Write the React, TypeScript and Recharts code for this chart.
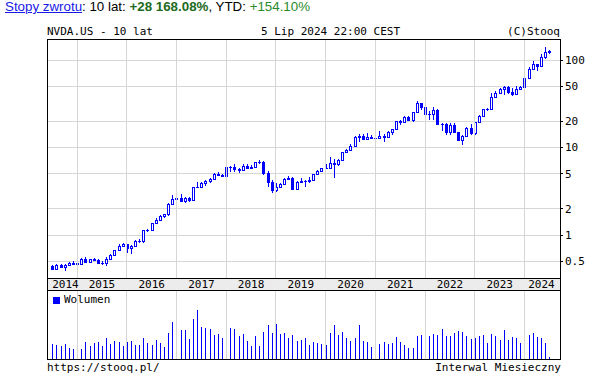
import { Bar, CartesianGrid, ComposedChart, Legend, ReferenceLine, XAxis, YAxis } from "recharts";

// NVDA.US monthly, Jul 2014 .. Jul 2024 (split/dividend adjusted)
const opens = [
  0.44, 0.411, 0.458, 0.434, 0.459, 0.481,
  0.478, 0.466, 0.537, 0.497, 0.527, 0.524, 0.478, 0.474, 0.534, 0.585, 0.674, 0.754,
  0.783, 0.707, 0.757, 0.859, 0.856, 1.127, 1.134, 1.378, 1.5, 1.653, 1.718, 2.26,
  2.574, 2.662, 2.474, 2.654, 2.542, 3.505, 3.525, 3.961, 4.124, 4.358, 5.041, 4.892,
  4.717, 6.022, 5.917, 5.674, 5.51, 6.189, 5.804, 6.0, 6.875, 6.885, 5.165, 4.003,
  3.271, 3.541, 3.805, 4.423, 4.457, 3.337, 4.043, 4.154, 4.127, 4.287, 4.95, 5.339,
  5.794, 5.851, 6.683, 6.524, 7.234, 8.786, 9.403, 10.509, 13.24, 13.395, 12.41, 13.268,
  12.924, 12.899, 13.619, 13.254, 14.905, 16.131, 19.862, 19.363, 22.228, 20.571, 25.388, 32.447,
  29.205, 24.388, 24.288, 27.177, 18.473, 18.597, 15.098, 18.09, 15.034, 12.09, 13.443, 16.855,
  14.556, 19.498, 23.17, 27.72, 27.69, 37.76, 42.22, 46.64, 49.26, 43.41, 40.7, 46.68,
  49.42, 61.53, 79.11, 90.36, 86.4, 109.63, 123.47,
];
const highs = [
  0.456, 0.465, 0.463, 0.463, 0.488, 0.499,
  0.486, 0.545, 0.555, 0.535, 0.55, 0.535, 0.5, 0.556, 0.6, 0.68, 0.79, 0.8,
  0.79, 0.76, 0.87, 0.89, 1.13, 1.17, 1.38, 1.56, 1.68, 1.76, 2.3, 2.84,
  2.9, 2.95, 2.7, 2.72, 3.58, 4.08, 4.07, 4.26, 4.44, 5.12, 5.3, 4.93,
  6.1, 6.12, 6.53, 5.84, 6.42, 6.55, 6.27, 6.9, 7.17, 7.03, 5.34, 4.21,
  3.96, 3.97, 4.52, 4.7, 4.61, 4.12, 4.5, 4.3, 4.55, 4.99, 5.5, 5.9,
  6.44, 7.87, 7.3, 7.45, 8.91, 9.64, 10.88, 13.44, 14.45, 14.21, 14.56, 13.74,
  14.4, 15.24, 14.25, 15.49, 16.3, 20.16, 20.8, 22.8, 22.9, 25.7, 34.4, 32.5,
  30.5, 26.4, 28.8, 27.2, 19.2, 19.0, 19.0, 19.2, 15.1, 13.8, 17.2, 18.7,
  19.8, 23.8, 27.9, 28.1, 41.9, 43.9, 48.0, 50.2, 49.8, 47.7, 50.5, 50.5,
  63.5, 82.4, 97.4, 90.4, 115.8, 140.76, 128.9,
];
const lows = [
  0.407, 0.409, 0.425, 0.386, 0.454, 0.464,
  0.444, 0.462, 0.485, 0.48, 0.505, 0.47, 0.455, 0.44, 0.52, 0.575, 0.66, 0.74,
  0.62, 0.6, 0.75, 0.82, 0.82, 1.07, 1.12, 1.37, 1.47, 1.58, 1.63, 2.2,
  2.45, 2.45, 2.33, 2.4, 2.48, 3.43, 3.46, 3.61, 3.97, 4.33, 4.8, 4.56,
  4.7, 5.28, 5.24, 5.16, 5.39, 5.76, 5.78, 5.98, 6.53, 4.81, 3.53, 3.06,
  3.12, 3.46, 3.74, 4.33, 3.27, 3.26, 4.0, 3.55, 3.96, 4.16, 4.9, 5.2,
  5.77, 5.75, 4.5, 6.14, 6.98, 8.6, 9.38, 10.46, 11.7, 12.34, 12.37, 12.75,
  12.7, 12.85, 11.44, 13.11, 13.79, 15.88, 18.07, 18.96, 20.47, 19.45, 25.3, 26.9,
  20.8, 20.8, 20.7, 18.4, 15.5, 13.9, 14.0, 14.9, 11.9, 10.8, 13.2, 14.0,
  14.0, 19.3, 22.2, 26.2, 27.3, 37.3, 40.9, 40.3, 40.9, 39.2, 40.6, 45.4,
  47.3, 60.5, 79.0, 75.6, 86.0, 101.4, 118.0,
];
const closes = [
  0.411, 0.459, 0.434, 0.459, 0.481, 0.471,
  0.466, 0.537, 0.497, 0.527, 0.524, 0.478, 0.474, 0.534, 0.585, 0.674, 0.754, 0.783,
  0.707, 0.757, 0.859, 0.856, 1.127, 1.134, 1.378, 1.5, 1.653, 1.718, 2.26, 2.574,
  2.662, 2.474, 2.654, 2.542, 3.505, 3.525, 3.961, 4.124, 4.358, 5.041, 4.892, 4.717,
  6.022, 5.917, 5.674, 5.51, 6.189, 5.804, 6.0, 6.875, 6.885, 5.165, 4.003, 3.271,
  3.541, 3.805, 4.423, 4.457, 3.337, 4.043, 4.154, 4.127, 4.287, 4.95, 5.339, 5.794,
  5.851, 6.683, 6.524, 7.234, 8.786, 9.403, 10.509, 13.24, 13.395, 12.41, 13.268, 12.924,
  12.899, 13.619, 13.254, 14.905, 16.131, 19.862, 19.363, 22.228, 20.571, 25.388, 32.447, 29.205,
  24.388, 24.288, 27.177, 18.473, 18.597, 15.098, 18.09, 15.034, 12.09, 13.443, 16.855, 14.556,
  19.498, 23.17, 27.72, 27.69, 37.76, 42.22, 46.64, 49.26, 43.41, 40.7, 46.68, 49.42,
  61.53, 79.11, 90.36, 86.4, 109.63, 123.54, 125.83,
];
// monthly volume, millions of shares (adjusted)
const volumes = [
  450, 420, 390, 450, 330, 300,
  300, 300, 510, 390, 480, 510, 390, 630, 450, 540, 510, 390,
  510, 540, 420, 420, 630, 480, 420, 570, 490, 370, 790, 1120,
  820, 880, 880, 610, 1210, 1480, 970, 940, 910, 730, 760, 640,
  730, 940, 910, 700, 760, 550, 400, 700, 400, 820, 1030, 790,
  1060, 750, 780, 630, 720, 540, 570, 630, 420, 510, 480, 450,
  420, 780, 1020, 720, 810, 630, 540, 630, 1020, 540, 510, 360,
  420, 450, 510, 450, 480, 660, 510, 420, 330, 330, 690, 720,
  690, 690, 750, 720, 900, 690, 690, 780, 840, 810, 690, 600,
  630, 690, 720, 480, 750, 690, 570, 870, 570, 660, 630, 480,
  630, 720, 780, 660, 630, 480, 60,
];
const years = [2014, 2015, 2016, 2017, 2018, 2019, 2020, 2021, 2022, 2023, 2024];
const priceTicks = [0.5, 1, 2, 5, 10, 20, 50, 100];

const START_MONTH = 6; // July 2014 = index 0
const data = closes.map((close, i) => ({
  i,
  open: opens[i],
  high: highs[i],
  low: lows[i],
  close,
  vol: volumes[i],
}));
const janTicks = years.slice(1).map((y) => (y - 2014) * 12 - START_MONTH);
const midTicks = years.map((y) => (y - 2014) * 12);

const BLUE = "#0000ff";
const MONO = "'DejaVu Sans Mono', monospace";
const GRID = "#d6d6d6";
const X_DOMAIN: [number, number] = [-1.28, 122.57];

function Candle(props: any) {
  const { x, y, width, height } = props;
  const p = props.payload ?? props;
  const lh = Math.log(p.high);
  const ll = Math.log(p.low);
  const py = (v: number) =>
    Math.round(y + (height * (lh - Math.log(v))) / (lh - ll || 1));
  const c = Math.floor(x + width / 2);
  const top = py(Math.max(p.open, p.close));
  const bot = py(Math.min(p.open, p.close));
  const up = p.close > p.open;
  return (
    <g>
      <line x1={c + 0.5} x2={c + 0.5} y1={Math.round(y)} y2={Math.round(y + height)} stroke={BLUE} />
      {up && bot - top >= 2 ? (
        <rect x={c - 0.5} y={top + 0.5} width={2} height={bot - top} fill="#fff" stroke={BLUE} />
      ) : (
        <rect x={c - 1} y={top} width={3} height={bot - top + 1} fill={BLUE} />
      )}
    </g>
  );
}

function YearTick(props: any) {
  const { x, payload } = props;
  const half = 13.5;
  const cx = Math.min(Math.max(x, 47 + 5 + half), 560 - 5 - half);
  return (
    <text x={cx} y={9.5} textAnchor="middle" fontFamily={MONO} fontSize={11} fill="#000">
      {2014 + payload.value / 12}
    </text>
  );
}

export default function App() {
  return (
    <div
      style={{
        position: "absolute",
        left: 0,
        top: 0,
        width: 592,
        height: 378,
        background: "#fff",
        overflow: "hidden",
        shapeRendering: "crispEdges",
      }}
    >
      <div
        style={{
          position: "absolute",
          left: 5,
          top: -1,
          fontFamily: "'Liberation Sans', Arial, sans-serif",
          fontSize: 13.33,
          lineHeight: "15px",
          whiteSpace: "nowrap",
          color: "#000",
        }}
      >
        <span style={{ color: "#1a1ae6", textDecoration: "underline" }}>Stopy zwrotu</span>: 10 lat:{" "}
        <b style={{ color: "#1d6b1d" }}>+28 168.08%</b>, YTD:{" "}
        <span style={{ color: "#2a8a2a" }}>+154.10%</span>
      </div>

      <div style={{ position: "absolute", left: 47, top: 25, fontFamily: MONO, fontSize: 11, lineHeight: "13px", whiteSpace: "pre" }}>
        NVDA.US - 10 lat
      </div>
      <div style={{ position: "absolute", left: 261, top: 25, fontFamily: MONO, fontSize: 11, lineHeight: "13px", whiteSpace: "pre" }}>
        5 Lip 2024 22:00 CEST
      </div>
      <div style={{ position: "absolute", right: 32, top: 25, fontFamily: MONO, fontSize: 11, lineHeight: "13px", whiteSpace: "pre" }}>
        (C)Stooq
      </div>

      <div style={{ position: "absolute", left: 48, top: 279, width: 512, height: 11, background: "#ececec" }} />

      <div style={{ position: "absolute", left: 0, top: 0 }}>
        <ComposedChart width={592} height={290} data={data} margin={{ top: 39, left: 47, right: 0, bottom: 12 }}>
          <CartesianGrid stroke={GRID} strokeWidth={1} vertical={false} />
          <XAxis
            dataKey="i"
            type="number"
            domain={X_DOMAIN}
            allowDataOverflow
            ticks={janTicks}
            height={0}
            mirror
            tick={false}
            axisLine={false}
            tickLine={{ stroke: "#000" }}
            tickSize={4}
          />
          <YAxis
            orientation="right"
            scale="log"
            domain={[0.3226, 173.8]}
            allowDataOverflow
            ticks={priceTicks}
            width={32}
            axisLine={false}
            tickLine={{ stroke: "#000" }}
            tickSize={3}
            tickMargin={2}
            tick={{ fontFamily: MONO, fontSize: 11, fill: "#000" }}
            tickFormatter={(v) => String(v)}
          />
          <YAxis
            yAxisId="left"
            orientation="left"
            scale="log"
            domain={[0.3226, 173.8]}
            allowDataOverflow
            ticks={priceTicks}
            width={0}
            mirror
            axisLine={false}
            tick={false}
            tickLine={{ stroke: "#000" }}
            tickSize={4}
          />
          {janTicks.map((t) => (
            <ReferenceLine key={t} x={t} stroke={GRID} />
          ))}
          <Bar
            dataKey={(d: any) => [d.low, d.high]}
            barSize={3}
            shape={<Candle />}
            isAnimationActive={false}
          />
        </ComposedChart>
      </div>

      <div style={{ position: "absolute", left: 0, top: 278 }}>
        <ComposedChart width={592} height={82} data={data} margin={{ top: 0, left: 47, right: 32, bottom: 1 }}>
          <XAxis
            xAxisId="lbl"
            orientation="top"
            dataKey="i"
            type="number"
            domain={X_DOMAIN}
            allowDataOverflow
            ticks={midTicks}
            height={13}
            axisLine={false}
            tickLine={false}
            tick={<YearTick />}
          />
          <XAxis
            xAxisId="grid"
            dataKey="i"
            type="number"
            domain={X_DOMAIN}
            allowDataOverflow
            ticks={janTicks}
            height={0}
            tick={false}
            axisLine={false}
            tickLine={false}
          />
          <YAxis hide domain={[0, 2040]} allowDataOverflow />
          {janTicks.map((t) => (
            <ReferenceLine key={t} xAxisId="grid" x={t} stroke={GRID} />
          ))}
          <Legend
            layout="horizontal"
            verticalAlign="middle"
            align="center"
            iconType="square"
            iconSize={7}
            wrapperStyle={{ left: 53, top: 16, width: "auto", height: 12, fontFamily: MONO, fontSize: 11, lineHeight: "11px" }}
            formatter={(value) => <span style={{ color: "#000" }}>{value}</span>}
          />
          <Bar
            xAxisId="grid"
            dataKey="vol"
            name="Wolumen"
            fill={BLUE}
            barSize={1}
            isAnimationActive={false}
          />
        </ComposedChart>
      </div>

      <div
        style={{
          position: "absolute",
          left: 47,
          top: 39,
          width: 514,
          height: 321,
          boxSizing: "border-box",
          border: "1px solid #000",
          pointerEvents: "none",
        }}
      />
      <div style={{ position: "absolute", left: 47, top: 278, width: 514, height: 1, background: "#000" }} />
      <div style={{ position: "absolute", left: 47, top: 290, width: 514, height: 1, background: "#000" }} />

      <div style={{ position: "absolute", left: 47, top: 361, fontFamily: MONO, fontSize: 11, lineHeight: "13px", whiteSpace: "pre" }}>
        https://stooq.pl/
      </div>
      <div style={{ position: "absolute", right: 31, top: 361, fontFamily: MONO, fontSize: 11, lineHeight: "13px", whiteSpace: "pre" }}>
        Interwal Miesieczny
      </div>
    </div>
  );
}
